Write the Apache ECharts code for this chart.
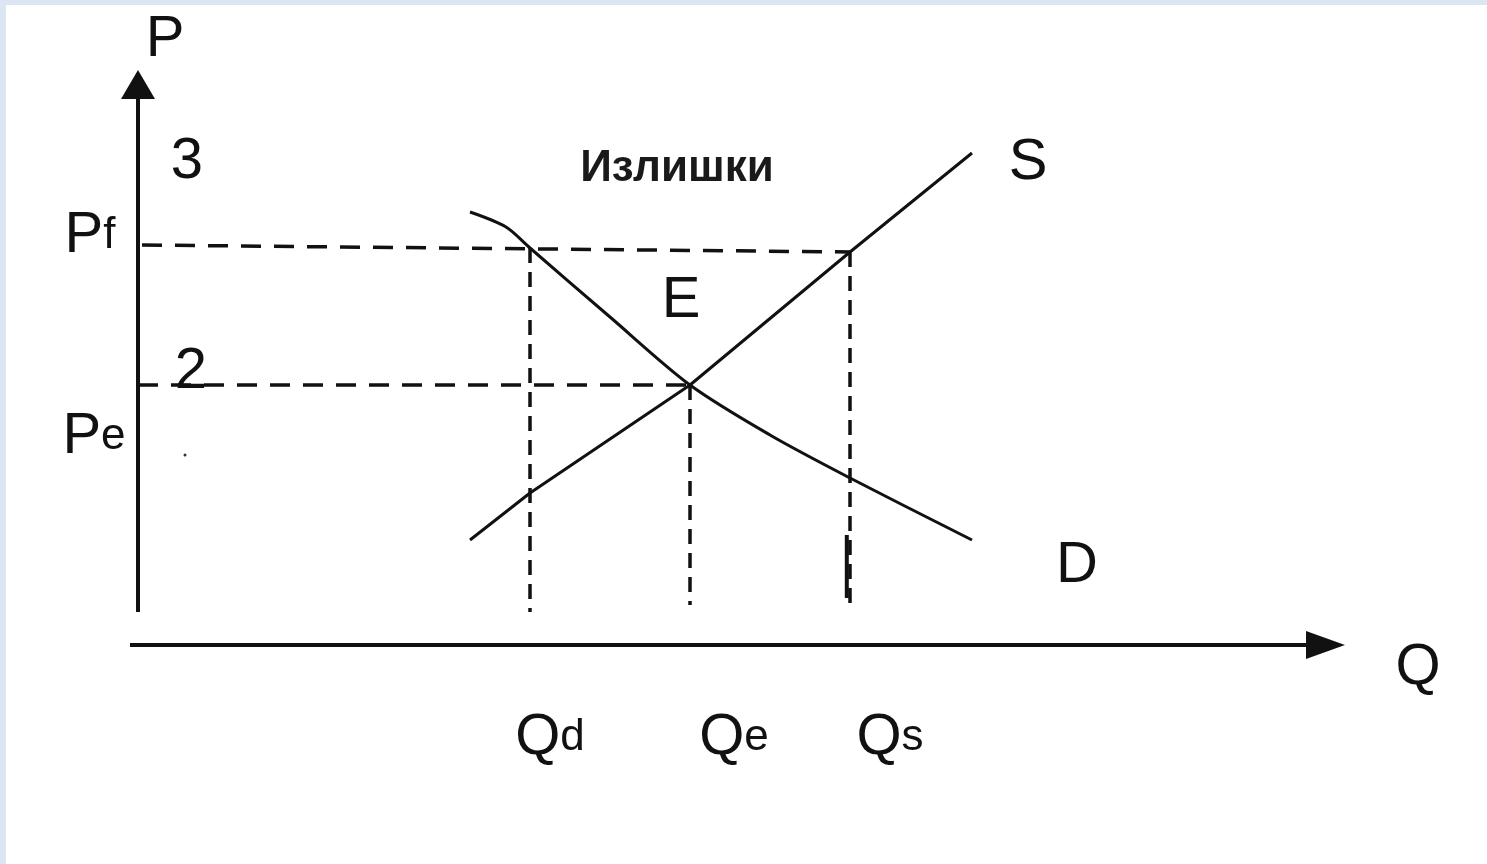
<!DOCTYPE html>
<html>
<head>
<meta charset="utf-8">
<title>Излишки</title>
<script src="https://cdn.jsdelivr.net/npm/echarts@6/dist/echarts.min.js"></script>
<style>
  html, body { margin: 0; padding: 0; background: #fff; }
  #chart { width: 1487px; height: 864px; }
</style>
</head>
<body>
<div id="chart"></div>
<script>
// кривая предложения S (Q, P)
const supplyQ = [4.25, 5.0, 7.0, 9.0, 10.525];
const supplyP = [2.625, 3.8, 6.5, 9.825, 12.3];
// кривая спроса D (Q, P)
const demandQ = [4.25, 4.7, 5.0, 6.0, 7.0, 8.0, 9.0, 10.525];
const demandP = [10.825, 10.45, 9.925, 8.2, 6.5, 5.25, 4.175, 2.625];
// уровни: Qd, Qe, Qs и Pf, Pe
const qMarks = [5, 7, 9];
const qTops = [9.925, 6.5, 9.825];
const qBottoms = [0.825, 1.0, 0.825];
const pfLevel = 10;
const peLevel = 6.5;

// подписи
const labelText = ['P', '3', 'P', '2', 'P', 'E', 'S', 'D', 'Q', 'Q', 'Q', 'Q'];
const labelSub  = ['',  '',  'f', '',  'e', '',  '',  '',  '',  'd', 'e', 's'];
const labelQ = [0.4375, 0.7125, -0.5, 0.7625, -0.45, 6.8875, 11.225, 11.8375, 16.1, 5.25, 7.55, 9.5];
const labelP = [15.125, 12.075, 10.225, 6.825, 5.2, 8.6, 12.05, 1.975, -0.575, -2.325, -2.325, -2.325];
const surplusLabel = 'Излишки';
const surplusPos = [6.8375, 11.9];

const FONT = '"Liberation Sans", Arial, sans-serif';
const INK = '#111';

var myChart = echarts.init(document.getElementById('chart'));

const zip = (a, b) => a.map((v, i) => [v, b[i]]);

// пунктирные линии
const hGuides = [
    [[0.15, pfLevel], [qMarks[2], qTops[2]]],
    [[0.1, peLevel], [qMarks[1], peLevel]]
];
const vGuides = qMarks.map((q, i) => [[q, qTops[i]], [q, qBottoms[i]]]);

const plainLine = (pts, width, dash) => ({
    type: 'line',
    data: pts,
    showSymbol: false,
    clip: false,
    silent: true,
    lineStyle: { color: INK, width: width, type: dash || 'solid' }
});

var option = {
    animation: false,
    backgroundColor: '#fff',
    graphic: [
        { type: 'rect', left: 0, top: 0, shape: { width: 6, height: 864 }, style: { fill: '#dce6f2' }, z: 100 },
        { type: 'rect', left: 0, top: 0, shape: { width: 1487, height: 5 }, style: { fill: '#dce6f2' }, z: 100 }
    ],
    grid: { left: 10, top: 5, width: 1400, height: 840 },
    xAxis: { type: 'value', min: -1.5, max: 16, show: false },
    yAxis: { type: 'value', min: -5, max: 16, show: false },
    series: [
        plainLine(zip(supplyQ, supplyP), 3),
        Object.assign(plainLine(zip(demandQ, demandP), 3), { smooth: 0.3 }),
        ...hGuides.map(g => plainLine(g, 3.5, [20, 13])),
        ...vGuides.map(g => plainLine(g, 3.5, [15, 9])),
        // штрих у Qs
        plainLine([[qMarks[2] - 0.04, 2.75], [qMarks[2] - 0.04, 1.175]], 4),
        // оси
        plainLine([[0.1, 0.825], [0.1, 14.0]], 4),
        plainLine([[0, 0], [14.95, 0]], 4),
        // стрелки осей
        {
            type: 'scatter',
            clip: false,
            silent: true,
            itemStyle: { color: INK, opacity: 1 },
            data: [
                { value: [0.1, 14.0125], symbol: 'triangle', symbolSize: [34, 29], symbolRotate: 0 },
                { value: [14.94375, 0], symbol: 'triangle', symbolSize: [28, 39], symbolRotate: -90 }
            ]
        },
        // подписи
        {
            type: 'scatter',
            clip: false,
            silent: true,
            symbolSize: 0,
            itemStyle: { opacity: 1 },
            data: labelText.map((t, i) => ({
                value: [labelQ[i], labelP[i]],
                label: {
                    formatter: labelSub[i] ? '{m|' + t + '}{s|' + labelSub[i] + '}' : '{m|' + t + '}'
                }
            })),
            label: {
                show: true,
                position: 'inside',
                align: 'center',
                verticalAlign: 'middle',
                color: INK,
                opacity: 1,
                rich: {
                    m: { fontFamily: FONT, fontSize: 58, color: INK },
                    s: { fontFamily: FONT, fontSize: 44, color: INK }
                }
            }
        },
        {
            type: 'scatter',
            clip: false,
            silent: true,
            symbolSize: 0,
            itemStyle: { opacity: 1 },
            data: [{ value: surplusPos }],
            label: {
                show: true,
                position: 'inside',
                formatter: surplusLabel,
                fontFamily: FONT,
                fontWeight: 'bold',
                fontSize: 44,
                color: '#1a1a1a',
                opacity: 1
            }
        },
        // точка под «2»
        {
            type: 'scatter',
            clip: false,
            silent: true,
            symbol: 'circle',
            symbolSize: 3,
            itemStyle: { color: '#333', opacity: 1 },
            data: [[0.6875, 4.75]]
        }
    ]
};

myChart.setOption(option, true);
window.onresize = myChart.resize;
</script>
</body>
</html>
